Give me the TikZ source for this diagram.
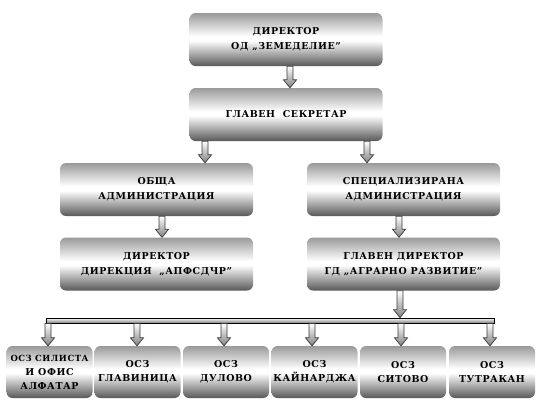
\documentclass[tikz,border=0pt]{standalone}
\usepackage{fontspec}
\setmainfont{DejaVu Serif}[LetterSpace=6]
\usetikzlibrary{calc}
\definecolor{bxdark}{HTML}{585858}
\definecolor{bxtop}{HTML}{9A9A9A}
\definecolor{arrline}{HTML}{3A3A3A}
\pgfdeclareverticalshading{boxsh}{100bp}{color(0bp)=(bxdark); color(25bp)=(bxdark); color(49bp)=(white); color(53bp)=(white); color(75bp)=(bxtop); color(100bp)=(bxtop)}
\pgfdeclareverticalshading{arrsh}{100bp}{color(0bp)=(gray); color(25bp)=(gray); color(75bp)=(white); color(100bp)=(white)}
\tikzset{
  box/.style={rounded corners=6bp, shading=boxsh, minimum width=193bp, minimum height=53bp,
    align=center, inner sep=0pt, font=\bfseries\fontsize{9.5}{15}\selectfont},
  smallbox/.style={box, minimum width=86bp, minimum height=52bp, font=\bfseries\fontsize{9.5}{14}\selectfont},
  blk/.style={shading=arrsh, draw=arrline, line width=0.7bp},
  busbar/.style={shading=arrsh, draw=black, line width=0.8bp, minimum width=448bp, minimum height=5bp, inner sep=0pt}
}
\newcommand\barrow[2]{%
  \path let \p1=#1, \p2=#2 in [blk] (\x1-3bp,\y1) -- (\x1+3bp,\y1) -- (\x1+3bp,\y2+8bp) -- (\x1+6.5bp,\y2+8bp) -- (\x1,\y2) -- (\x1-6.5bp,\y2+8bp) -- (\x1-3bp,\y2+8bp) -- cycle;}
\begin{document}
\begin{tikzpicture}[x=1bp,y=-1bp]
\useasboundingbox (0,0) rectangle (540,408);
\node[box] (b1) at (286,39.5) {ДИРЕКТОР\\ОД „ЗЕМЕДЕЛИЕ”};
\node[box] (b2) at (286,114.5) {ГЛАВЕН\ \ СЕКРЕТАР};
\node[box] (b3) at (156.5,189.5) {ОБЩА\\АДМИНИСТРАЦИЯ};
\node[box] (b4) at (403.5,189.5) {СПЕЦИАЛИЗИРАНА\\АДМИНИСТРАЦИЯ};
\node[box] (b5) at (156.5,264) {ДИРЕКТОР\\ДИРЕКЦИЯ \ „АПФСДЧР”};
\node[box] (b6) at (403.5,264) {ГЛАВЕН ДИРЕКТОР\\ГД „АГРАРНО РАЗВИТИЕ”};
\node[smallbox] (c1) at (49.5,372) {{\fontsize{8.5}{14}\selectfont ОСЗ СИЛИСТА}\\И ОФИС\\АЛФАТАР};
\node[smallbox] (c2) at (137.5,372) {ОСЗ\\ГЛАВИНИЦА};
\node[smallbox] (c3) at (226,372) {ОСЗ\\ДУЛОВО};
\node[smallbox] (c4) at (314.5,372) {ОСЗ\\КАЙНАРДЖА};
\node[smallbox] (c5) at (403,372) {ОСЗ\\СИТОВО};
\node[smallbox] (c6) at (492,372) {ОСЗ\\ТУТРАКАН};
\node[busbar] (bus) at (270,320.5) {};
\coordinate (a12) at ($(b2.north)+(4,0)$);
\coordinate (a23) at ($(b3.north)+(48.5,0)$);
\coordinate (a24) at ($(b4.north)+(-36.5,0)$);
\coordinate (a35) at ($(b5.north)+(5.5,0)$);
\coordinate (a46) at ($(b6.north)+(-4.5,0)$);
\coordinate (a6b) at ($(bus.north -| b6.south)+(-3.5,0)$);
\barrow{(b1.south -| a12)}{(a12)}
\barrow{(b2.south -| a23)}{(a23)}
\barrow{(b2.south -| a24)}{(a24)}
\barrow{(b3.south -| a35)}{(a35)}
\barrow{(b4.south -| a46)}{(a46)}
\barrow{(b6.south -| a6b)}{(a6b)}
\foreach \c/\dx in {c1/-1.5,c2/-0.5,c3/-2,c4/-2.5,c5/-2,c6/-2}{
  \coordinate (t\c) at ($(\c.north)+(\dx,0)$);
  \barrow{(bus.south -| t\c)}{(t\c)}
}
\end{tikzpicture}
\end{document}
